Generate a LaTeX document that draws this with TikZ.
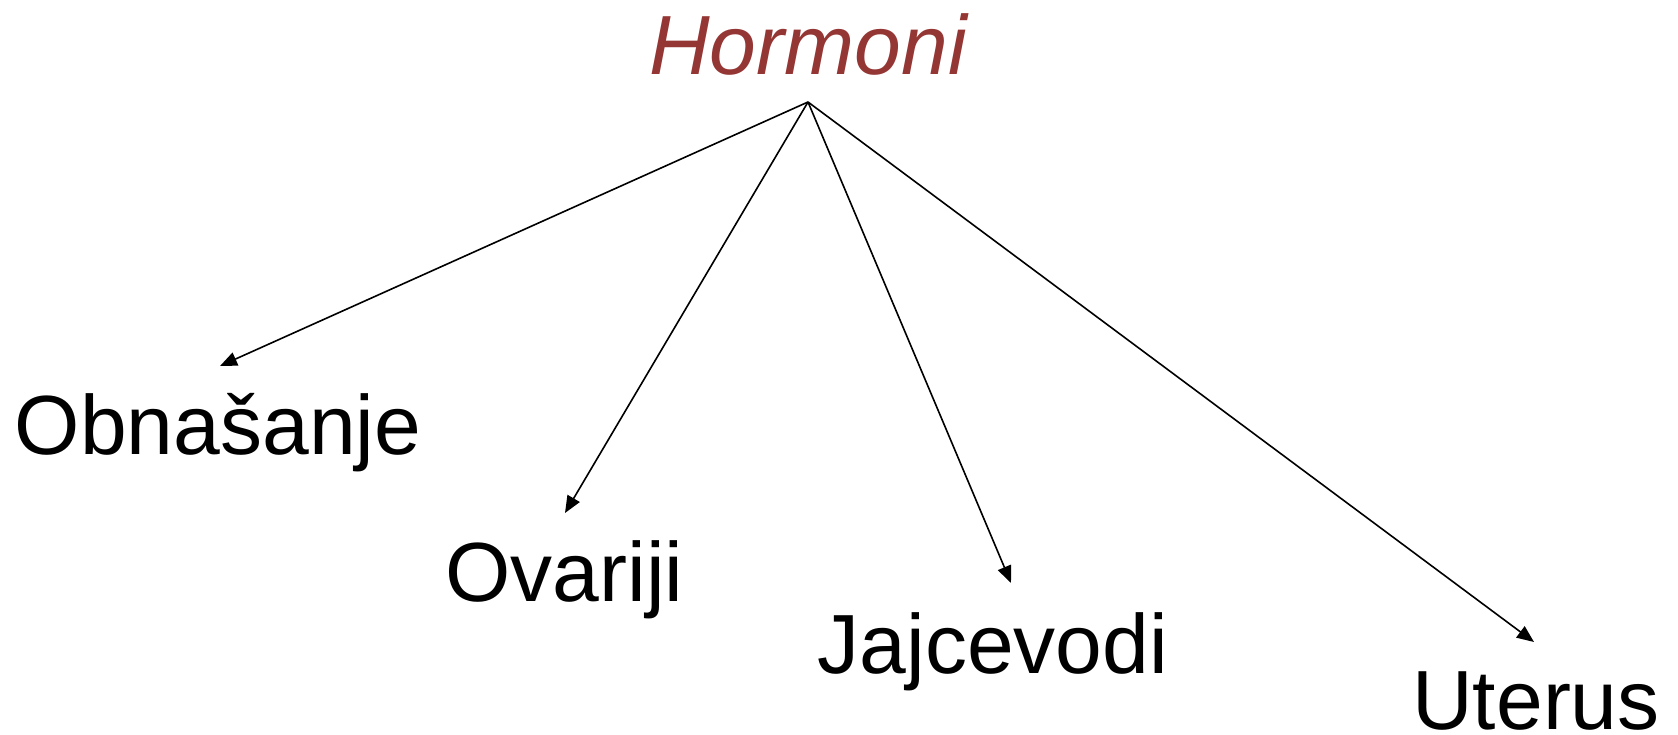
\documentclass[tikz,border=0pt]{standalone}
\usepackage{fontspec}
\setmainfont{Liberation Sans}
\usetikzlibrary{arrows.meta}
\definecolor{titlered}{HTML}{943634}
\tikzset{
  lbl/.style={inner sep=0pt, anchor=base, font=\fontsize{84}{90}\selectfont},
  ttl/.style={lbl, text=titlered, font=\fontsize{84}{90}\selectfont\itshape},
  conn/.style={line width=1.6pt, -{Triangle[length=17pt,width=14pt]}}
}
\begin{document}
\begin{tikzpicture}[x=1pt,y=-1pt]
\useasboundingbox (0,0) rectangle (1678,734);
\node[ttl] (hormoni) at (808,74) {Hormoni};
\node[lbl] (obn) at (218,454) {Obnašanje};
\node[lbl] (ova) at (564.5,601) {Ovariji};
\node[lbl] (jaj) at (993,673) {Jajcevodi};
\node[lbl] (ute) at (1536,729) {Uterus};
\coordinate (src) at (808,102);
\coordinate (tobn) at (220,366);
\coordinate (tova) at (565,513);
\coordinate (tjaj) at (1011,583);
\coordinate (tute) at (1534,642);
\draw[conn] (src) -- (tobn);
\draw[conn] (src) -- (tova);
\draw[conn] (src) -- (tjaj);
\draw[conn] (src) -- (tute);
\end{tikzpicture}
\end{document}
